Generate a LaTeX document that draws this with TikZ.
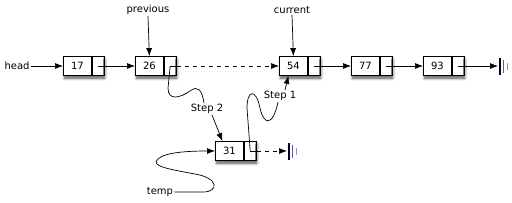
\documentclass[tikz,border=0pt]{standalone}
\usepackage{fontspec}
\setmainfont{DejaVu Sans}
\usetikzlibrary{arrows.meta,shadows.blur}
\tikzset{
  outerbox/.style={minimum width=40pt,minimum height=19pt,inner sep=0pt,fill=white,
    blur shadow={shadow xshift=1.5pt,shadow yshift=-2.5pt,shadow blur radius=3pt,shadow opacity=70}},
  valbox/.style={draw,line width=0.8pt,minimum width=28pt,minimum height=19pt,inner sep=0pt,font=\fontsize{10}{12}\selectfont},
  ptrbox/.style={draw,line width=0.8pt,minimum width=12pt,minimum height=19pt,inner sep=0pt},
  lbl/.style={inner sep=1pt,font=\fontsize{10}{12}\selectfont},
  conn/.style={line width=0.7pt},
  arr/.style={conn,-{Latex[length=8pt,width=6pt]}},
  dsh/.style={dash pattern=on 4.5pt off 3.5pt},
  gnd1/.style={line width=1.3pt,color=black!75!blue!60!black},
  gnd2/.style={line width=0.9pt,color=blue!30!gray},
  gnd3/.style={line width=0.8pt,color=gray!80},
}
\newcommand\lnode[4]{%
  \node[outerbox,anchor=west] (#1o) at (#2,#3) {};
  \node[valbox,anchor=west] (#1) at (#2,#3) {#4};
  \node[ptrbox,anchor=west] (#1p) at (#1.east) {};
}
\begin{document}
\begin{tikzpicture}[x=1pt,y=-1pt]
\useasboundingbox (0,0) rectangle (512,202);
\lnode{n17}{63}{66}{17}
\lnode{n26}{135}{66}{26}
\lnode{n54}{279}{66}{54}
\lnode{n77}{351}{66}{77}
\lnode{n93}{423}{66}{93}
\lnode{n31}{215}{151}{31}
% labels
\node[lbl] (head) at (17,66) {head};
\node[lbl] (prev) at (148,10) {previous};
\node[lbl] (curr) at (292,10) {current};
\node[lbl] (s2) at (207,109) {Step 2};
\node[lbl] (s1) at (280,96) {Step 1};
\node[lbl] (temp) at (160,192) {temp};
% ground points
\coordinate (g1) at (498,66);
\coordinate (g2) at (287,151);
% connectors
\draw[arr] (head.east) -- (n17.west);
\draw[arr] (prev.south) -- (n26.north);
\draw[arr] (curr.south) -- (n54.north);
\draw[arr] (n17p.center) -- (n26.west);
\draw[conn] (n26p.center) -- (n26p.east);
\draw[arr,dsh] (n26p.east) -- (n54.west);
\draw[arr] (n54p.center) -- (n77.west);
\draw[arr] (n77p.center) -- (n93.west);
\draw[arr] (n93p.center) -- (g1);
\draw[conn] (n31p.center) -- (n31p.east);
\draw[arr,dsh] (n31p.east) -- (g2);
% ground symbols
\draw[gnd1] (500,58) -- (500,75);
\draw[gnd2] (503.5,60) -- (503.5,73);
\draw[gnd3] (507,63) -- (507,70);
\draw[gnd1] (289,143) -- (289,160);
\draw[gnd2] (292.5,145) -- (292.5,158);
\draw[gnd3] (296,148) -- (296,155);
% step 2
\draw[conn] (n26p.center) -- (168,88) .. controls (168,101) and (180,98) .. (190,91)
  .. controls (198,85) and (202,90) .. ([xshift=-3pt]s2.north);
\draw[arr] ([xshift=5pt]s2.south) -- ([xshift=-7pt]n31.north);
% step 1
\draw[conn] (n31p.center) -- (247,108) .. controls (247,90) and (256,88) .. (260,108)
  .. controls (264,126) and (273,126) .. ([xshift=-2pt]s1.south);
\draw[arr] ([xshift=5pt]s1.north) -- ([xshift=-5pt]n54.south);
% temp
\draw[arr] (temp.east) -- (203,192) .. controls (219,192) and (219,178) .. (195,174)
  .. controls (168,169) and (150,166) .. (158,159)
  .. controls (165,152) and (190,151) .. (n31.west);
\end{tikzpicture}
\end{document}
